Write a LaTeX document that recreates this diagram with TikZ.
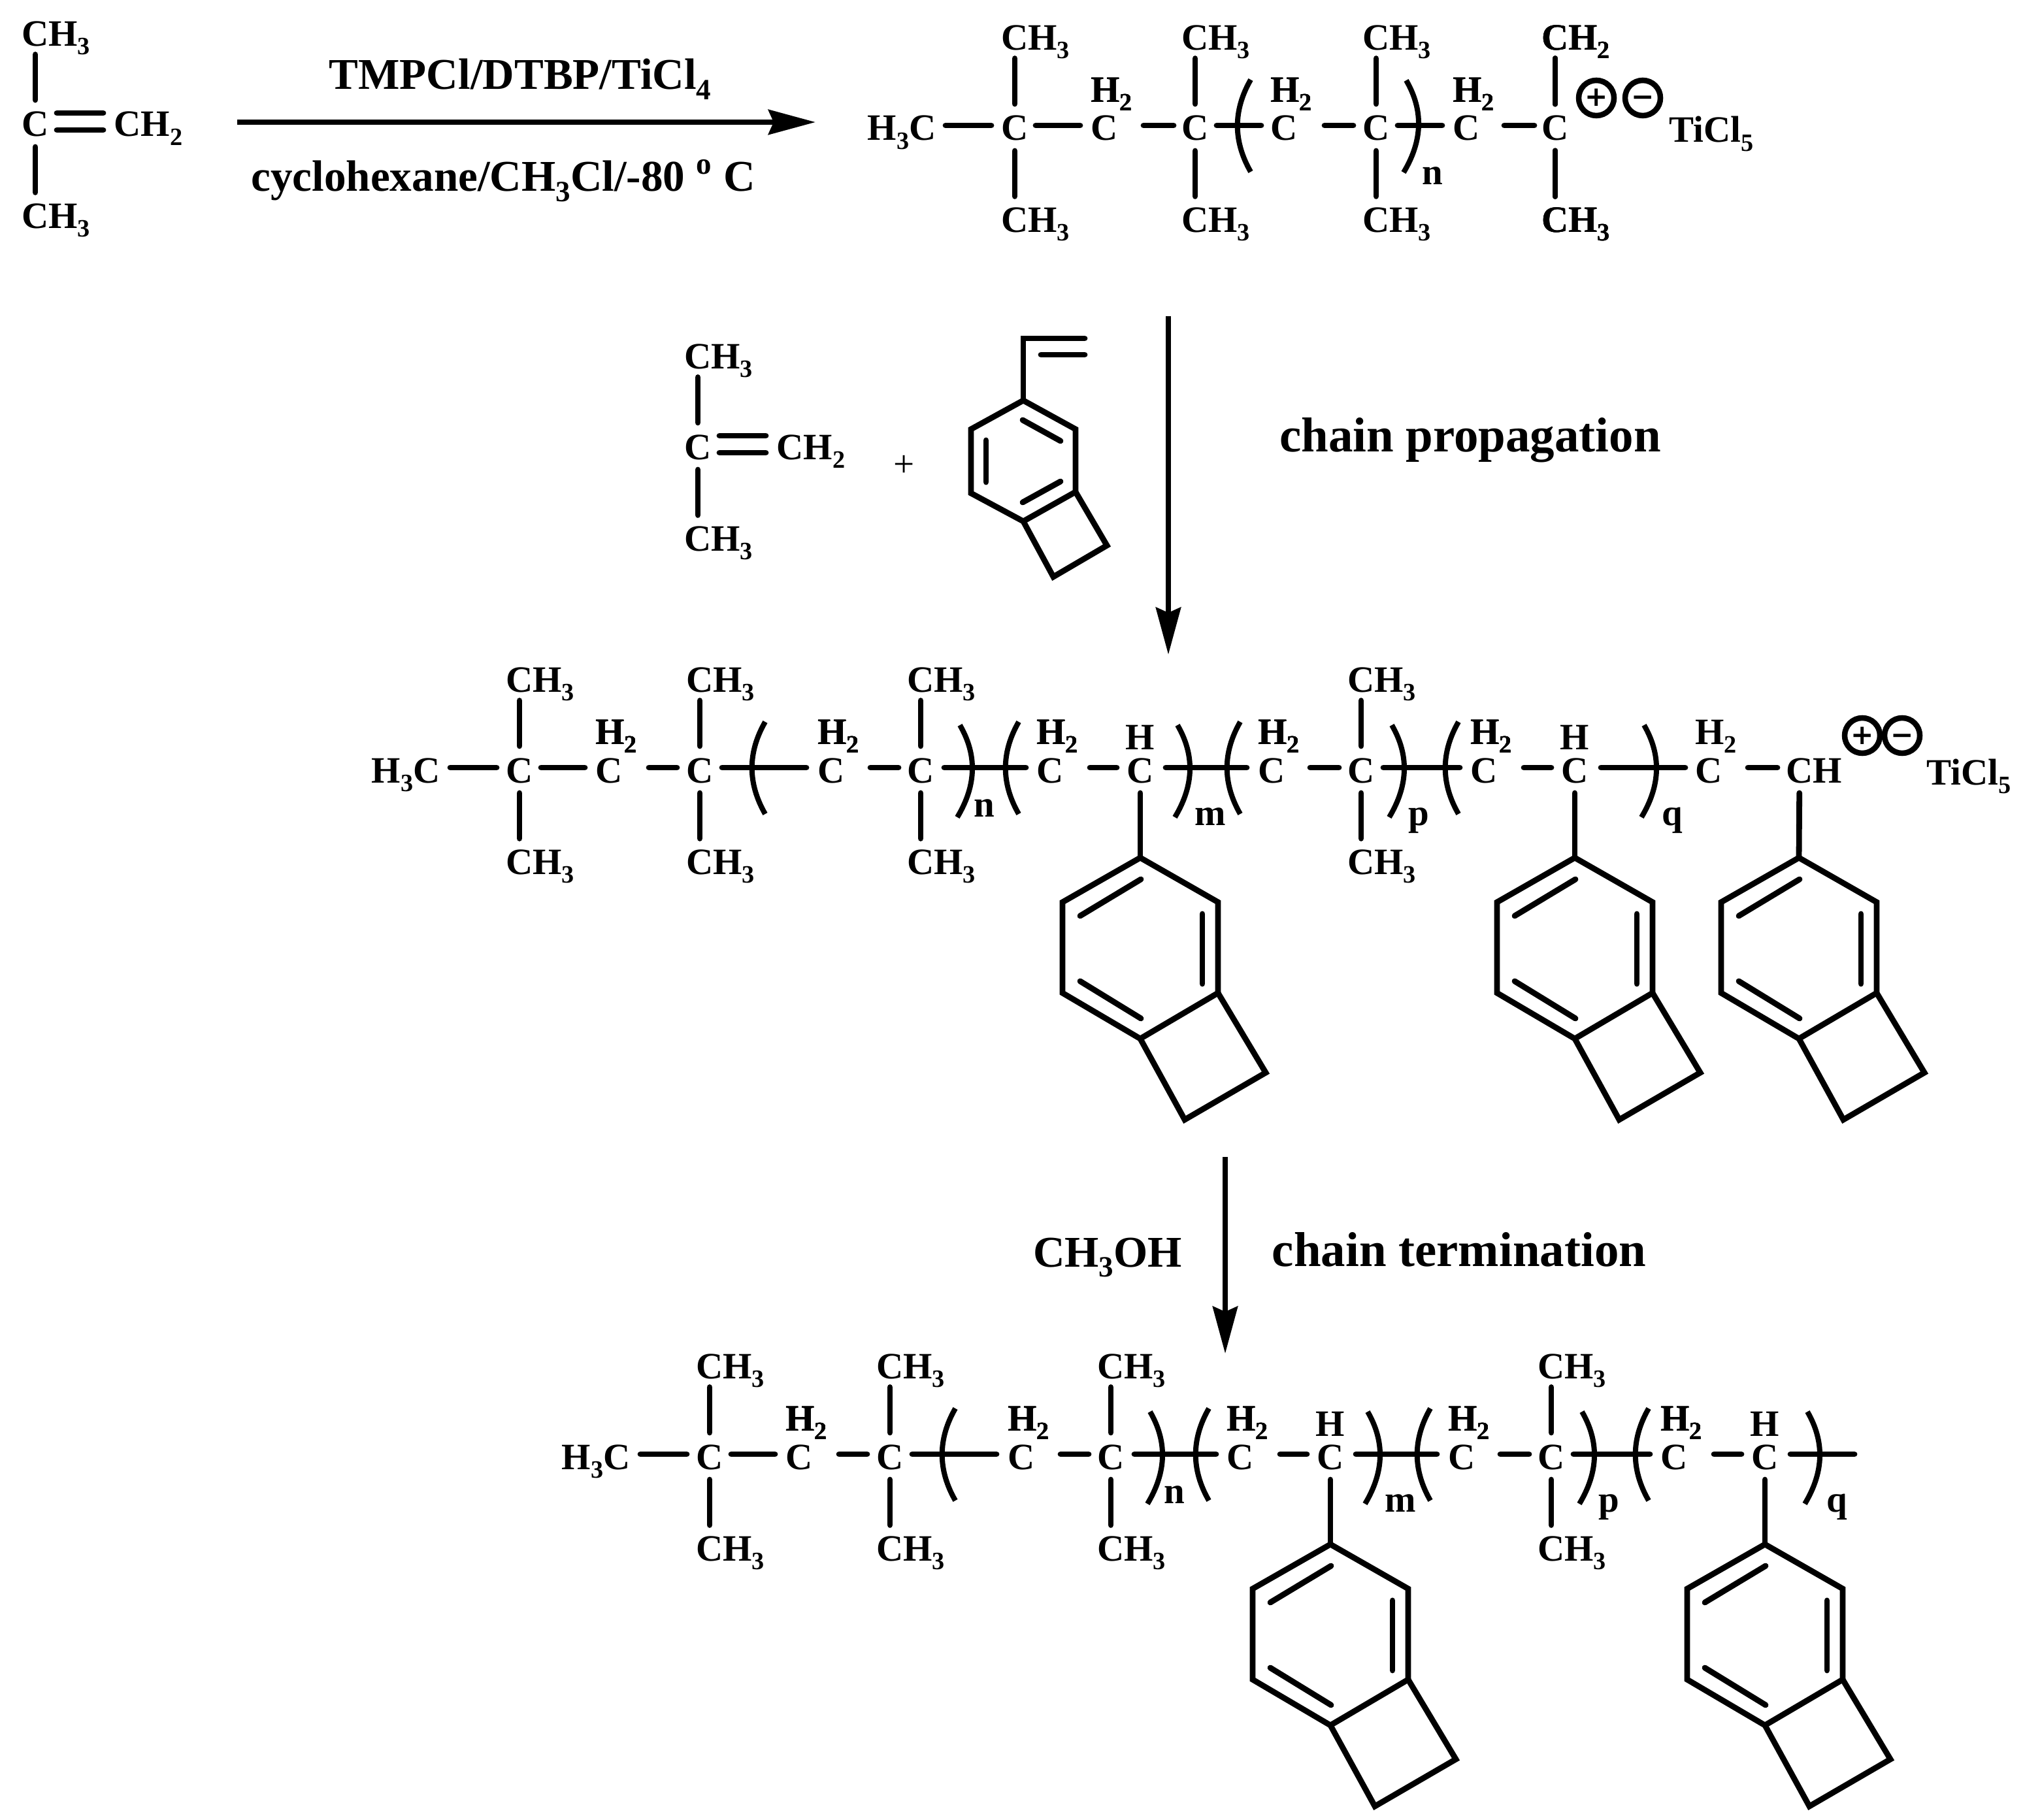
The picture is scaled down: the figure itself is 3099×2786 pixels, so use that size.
\documentclass[tikz,border=0pt]{standalone}
\usepackage{fontspec}
\setmainfont{Liberation Serif}
\newfontfamily\chargefont{DejaVu Sans}
\usetikzlibrary{positioning, arrows.meta}

\newcommand{\sbs}[1]{\raisebox{-.23em}{\scalebox{.67}{#1}}}
% C-width box, so that a group stands with its C over the chain atom
\newcommand{\leftC}[1]{\makebox[.41cm][l]{#1}}
% two groups on a chain atom
\newcommand{\sidepair}[2][3]{
    \node[atom, above=.91cm of #2] (#2u) {\leftC{CH\sbs{#1}}};
    \node[atom, below=.93cm of #2] (#2d) {\leftC{CH\sbs{3}}};
    \draw[bond, shorten <=.33cm, shorten >=.36cm] (#2.center) -- (#2u.center);
    \draw[bond, shorten <=.39cm, shorten >=.32cm] (#2.center) -- (#2d.center);
}
\newcommand{\lbrk}[2]{\draw[paren] (#1+20,#2-70) .. controls (#1-7,#2-23) and (#1-7,#2+24) .. (#1+20,#2+71);}
\newcommand{\rbrk}[2]{\draw[paren] (#1-19,#2-65) .. controls (#1+7,#2-20) and (#1+7,#2+26) .. (#1-23,#2+76);}
% the chain shared by the two long rows
\newcommand{\longchain}{
    \node[atom] (me) at (621,1175) {H\sbs{3}C};
    \foreach \n/\x in {c1/795, c2/932, c3/1071, c4/1272, c5/1409, c6/1607, c7/1745, c8/1946, c9/2083, c10/2271, c11/2410}
        \node[atom] (\n) at (\x,1175) {C};
    \foreach \n in {c1, c3, c5, c9}
        \sidepair{\n}
    \foreach \n in {c2, c4, c6, c8, c10}
        \node[atom, above=.11cm of \n] (\n h) {\leftC{H\sbs{2}}};
    \foreach \n in {c7, c11}
        \node[atom, above=.03cm of \n] (\n h) {H};
    \foreach \a/\b/\s/\e in {me/c1/.68/.35, c1/c2/.33/.37, c2/c3/.61/.35, c3/c4/.34/.38, c4/c5/.60/.34, c5/c6/.36/.37, c6/c7/.61/.36, c7/c8/.39/.38, c8/c9/.59/.34, c9/c10/.34/.37, c10/c11/.61/.36}
        \draw[bond, shorten <=\s cm, shorten >=\e cm] (\a.center) -- (\b.center);
    \lbrk{1151}{1175} \rbrk{1488}{1175}
    \lbrk{1539}{1175} \rbrk{1821}{1175}
    \lbrk{1878}{1175} \rbrk{2149}{1175}
    \lbrk{2212}{1175}
    \node[atom] (n) at (1506,1227) {n};
    \node[atom] (m) at (1852,1240) {m};
    \node[atom] (p) at (2171,1240) {p};
    \pic (r7) at (1745,1313) {bcb};
    \pic (r11) at (2410,1313) {bcb};
    \draw[bond, shorten <=.39cm] (c7.center) -- (r7-t);
    \draw[bond, shorten <=.39cm] (c11.center) -- (r11-t);
}

\begin{document}
\begin{tikzpicture}[
        x=.01cm, y=-.01cm,
        atom/.style={font=\bfseries\fontsize{16.2}{18}\selectfont, inner sep=0pt, text height=.46cm, text depth=0cm},
        reagent/.style={font=\bfseries\fontsize{19.1}{22}\selectfont, inner sep=0pt, anchor=base},
        step label/.style={font=\bfseries\fontsize{21.3}{24}\selectfont, inner sep=0pt, anchor=base},
        bond/.style={line width=.088cm, line cap=round},
        ring/.style={line width=.088cm, line join=miter},
        paren/.style={line width=.08cm},
        rxn/.style={line width=.08cm, -{Stealth[length=.72cm, width=.38cm, inset=.08cm]}},
        charge/.style={circle, draw, line width=.085cm, inner sep=0pt, minimum size=.54cm, text height=.26cm, text depth=0cm, font=\chargefont\bfseries\fontsize{12}{14}\selectfont},
        bcb/.pic={
            \coordinate (-t) at (0,0);
            \draw[ring] (-t) -- (119,68) -- (119,207) -- (0,277) -- (-119,207) -- (-119,68) -- cycle;
            \draw[ring] (119,207) -- (192,329) -- (68,401) -- (0,277);
            \draw[bond] (1,33) -- (-92,89);
            \draw[bond] (-92,189) -- (1,246);
            \draw[bond] (95,86) -- (95,193);
        }
    ]
    \useasboundingbox (0,0) rectangle (3099,2786);

    % first monomer
    \node[atom] (a) at (54,186) {C};
    \node[atom, anchor=west] (ach) at (174,186) {CH\sbs{2}};
    \sidepair{a}
    \draw[bond, shorten <=.33cm, shorten >=.16cm] ([yshift=.13cm]a.center) -- ([yshift=.13cm]ach.west);
    \draw[bond, shorten <=.33cm, shorten >=.16cm] ([yshift=-.13cm]a.center) -- ([yshift=-.13cm]ach.west);

    % initiation arrow
    \coordinate (arr1s) at (363,187);
    \coordinate (arr1e) at (1248,187);
    \draw[rxn] (arr1s) -- (arr1e);
    \node[reagent] (tmp) at (796,137) {TMPCl/DTBP/TiCl\sbs{4}};
    \node[reagent] (solv) at (770,293) {cyclohexane/CH\sbs{3}Cl/-80 \textsuperscript{o} C};

    % living chain, first row
    \node[atom] (tme) at (1380,192) {H\sbs{3}C};
    \foreach \n/\x in {t1/1553, t2/1690, t3/1829, t4/1965, t5/2106, t6/2244, t7/2380}
        \node[atom] (\n) at (\x,192) {C};
    \foreach \n in {t1, t3, t5}
        \sidepair{\n}
    \sidepair[2]{t7}
    \foreach \n in {t2, t4, t6}
        \node[atom, above=.11cm of \n] (\n h) {\leftC{H\sbs{2}}};
    \foreach \a/\b/\s/\e in {tme/t1/.67/.36, t1/t2/.32/.37, t2/t3/.60/.33, t3/t4/.33/.35, t4/t5/.62/.35, t5/t6/.33/.37, t6/t7/.58/.32}
        \draw[bond, shorten <=\s cm, shorten >=\e cm] (\a.center) -- (\b.center);
    \lbrk{1894}{192} \rbrk{2171}{188}
    \node[atom] (tn) at (2192,259) {n};
    \node[charge] (tplus) at (2443,150) {+};
    \node[charge] (tminus) at (2514,150) {−};
    \node[atom, anchor=west] (tti) at (2554,195) {TiCl\sbs{5}};

    % comonomers
    \coordinate (arr2s) at (1788,484);
    \coordinate (arr2e) at (1788,1002);
    \draw[rxn] (arr2s) -- (arr2e);
    \node[atom] (b) at (1068,680) {C};
    \node[atom, anchor=west] (bch) at (1188,680) {CH\sbs{2}};
    \sidepair{b}
    \draw[bond, shorten <=.33cm, shorten >=.16cm] ([yshift=.13cm]b.center) -- ([yshift=.13cm]bch.west);
    \draw[bond, shorten <=.33cm, shorten >=.16cm] ([yshift=-.13cm]b.center) -- ([yshift=-.13cm]bch.west);
    \node[font=\fontsize{16.2}{18}\selectfont, inner sep=0pt] (plus) at (1384,713) {+};
    \draw[ring] (1566,613) -- (1646,657) -- (1646,753) -- (1566,798) -- (1486,755) -- (1486,657) -- cycle;
    \draw[ring] (1646,753) -- (1694,835) -- (1612,883) -- (1566,798);
    \draw[bond] (1565,643) -- (1623,675);
    \draw[bond] (1509,674) -- (1509,738);
    \draw[bond] (1565,769) -- (1623,737);
    \draw[ring, line cap=round] (1566,613) -- (1566,518) -- (1660,518);
    \draw[bond] (1593,543) -- (1660,543);
    \node[step label] (prop) at (2250,692) {chain propagation};

    % second row
    \longchain
    \node[atom] (c12) at (2615,1175) {C};
    \node[atom, above=.11cm of c12] (c12h) {\leftC{H\sbs{2}}};
    \node[atom] (ch) at (2754,1175) {\leftC{CH}};
    \draw[bond, shorten <=.40cm, shorten >=.36cm] (c11.center) -- (c12.center);
    \draw[bond, shorten <=.60cm, shorten >=.34cm] (c12.center) -- (ch.center);
    \rbrk{2535}{1175}
    \node[atom] (q) at (2559,1240) {q};
    \node[charge] (plus2) at (2850,1126) {+};
    \node[charge] (minus2) at (2911,1126) {−};
    \node[atom, anchor=west] (ti2) at (2948,1178) {TiCl\sbs{5}};
    \pic (r12) at (2753,1313) {bcb};
    \draw[bond, shorten <=.39cm] (ch.center) -- (r12-t);

    % termination
    \coordinate (arr3s) at (1875,1771);
    \coordinate (arr3e) at (1875,2072);
    \draw[rxn] (arr3s) -- (arr3e);
    \node[reagent] (meoh) at (1695,1939) {CH\sbs{3}OH};
    \node[step label] (term) at (2233,1938) {chain termination};

    % third row
    \begin{scope}[shift={(291,1051)}, name prefix=z]
        \longchain
        \coordinate (endp) at (2547,1175);
        \draw[bond, shorten <=.39cm] (c11.center) -- (endp);
        \rbrk{2494}{1175}
        \node[atom] (q) at (2520,1240) {q};
    \end{scope}
\end{tikzpicture}
\end{document}
